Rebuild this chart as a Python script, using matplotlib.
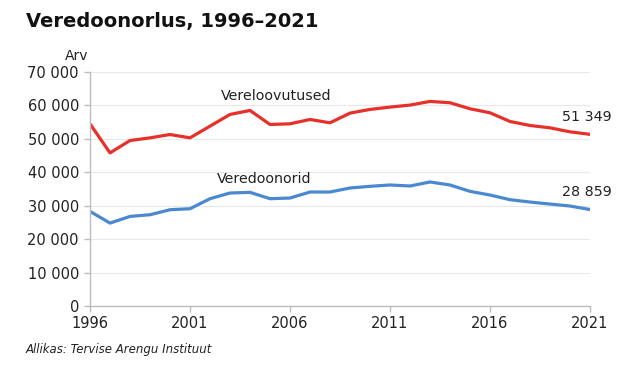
import matplotlib.pyplot as plt
from matplotlib.ticker import FuncFormatter

years = list(range(1996, 2022))
# vereloovutused (blood donations)
donations = [54500, 45800, 49500, 50300, 51300, 50300, 53800, 57300, 58500, 54300,
             54500, 55800, 54800, 57700, 58800, 59500, 60100, 61200, 60800, 59000,
             57800, 55200, 54000, 53300, 52100, 51349]
# veredoonorid (blood donors)
donors = [28300, 24800, 26800, 27300, 28800, 29100, 32100, 33800, 34000, 32100,
          32300, 34100, 34100, 35300, 35800, 36200, 35900, 37100, 36200, 34300,
          33200, 31800, 31100, 30500, 29900, 28859]

red = '#e8302a'
blue = '#4a89cf'
grey = '#bdbdbd'

plt.rcParams['font.family'] = ['DejaVu Sans']

fig = plt.figure(figsize=(6.42, 3.73), dpi=100)
ax = fig.add_axes([90 / 642, 1 - 306 / 373, 500 / 642, 234 / 373])

ax.plot(years, donations, color=red, lw=2.3, solid_joinstyle='round')
ax.plot(years, donors, color=blue, lw=2.3, solid_joinstyle='round')

ax.set_xlim(1996, 2021)
ax.set_ylim(0, 70000)
ax.set_xticks(range(1996, 2022, 5))
ax.set_yticks(range(0, 70001, 10000))
ax.yaxis.set_major_formatter(FuncFormatter(lambda v, p: f'{int(v):,}'.replace(',', ' ')))
ax.grid(axis='y', color='#e8e8e8', lw=0.8)
ax.set_axisbelow(True)
for s in ['top', 'right']:
    ax.spines[s].set_visible(False)
for s in ['left', 'bottom']:
    ax.spines[s].set_color(grey)
    ax.spines[s].set_linewidth(1)
ax.tick_params(axis='both', colors=grey, labelcolor='#222222', labelsize=10.5, length=4, width=1)
ax.tick_params(axis='y', pad=4)

ax.text(2002.55, 62800, 'Vereloovutused', fontsize=10.3, color='#222222', va='center')
ax.text(2002.35, 38100, 'Veredoonorid', fontsize=10.3, color='#222222', va='center')
ax.text(2022.1, 56600, '51 349', fontsize=10.3, color='#222222', ha='right', va='center')
ax.text(2022.1, 34100, '28 859', fontsize=10.3, color='#222222', ha='right', va='center')

fig.text(88 / 642, 1 - 56 / 373, 'Arv', fontsize=10, color='#222222', ha='right', va='center')
fig.text(26 / 642, 1 - 22 / 373, 'Veredoonorlus, 1996\u20132021', fontsize=14, fontweight='bold',
         color='#111111', va='center')
fig.text(26 / 642, 1 - 349 / 373, 'Allikas: Tervise Arengu Instituut', fontsize=8.5, style='italic',
         color='#222222', va='center')

fig.savefig('out.png', dpi=100)
